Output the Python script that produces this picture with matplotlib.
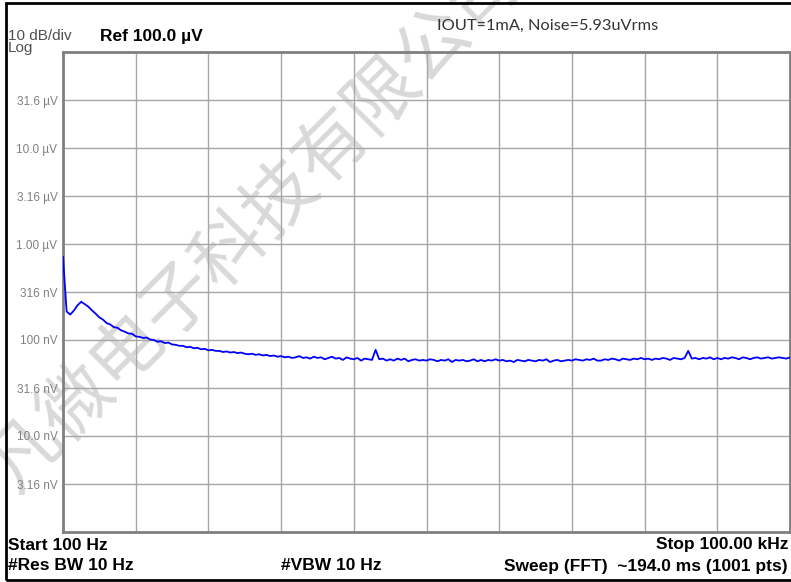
import numpy as np
import matplotlib.pyplot as plt
from matplotlib.patches import Rectangle
from matplotlib.ticker import NullFormatter

# sweep settings (from the instrument header)
start_hz = 100
stop_hz = 100e3

# trace level in nV, read every 5th sweep point (201 of 1001 pts)
level_nv = [
    733, 198, 184, 203, 230, 250, 236, 222, 203, 188, 172, 163, 150, 145, 136, 134, 126, 122, 117, 116,
    109, 108, 105, 106, 101, 100, 96, 97, 93, 94, 90, 89, 87, 87, 84, 85, 82, 83, 80, 81,
    78, 79, 77, 77, 75, 76, 74, 75, 73, 74, 72, 71, 72, 70, 71, 69, 70, 68, 69, 67,
    68, 66, 67, 65, 66, 68, 65, 66, 64, 67, 65, 66, 63, 65, 67, 64, 65, 62, 66, 64,
    63, 65, 61, 64, 63, 62, 79, 63, 64, 61, 63, 61, 64, 62, 64, 60, 62, 63, 61, 62,
    61, 63, 62, 60, 62, 61, 63, 59, 62, 61, 62, 60, 61, 63, 60, 62, 60, 62, 61, 63,
    61, 62, 60, 61, 59, 62, 61, 60, 62, 61, 60, 62, 61, 63, 59, 61, 62, 60, 61, 62,
    61, 63, 62, 61, 63, 62, 64, 61, 61, 63, 62, 64, 63, 61, 64, 63, 62, 64, 63, 65,
    63, 64, 62, 64, 63, 65, 64, 62, 65, 64, 63, 65, 77, 64, 65, 63, 65, 64, 66, 63,
    65, 63, 65, 64, 66, 65, 63, 66, 65, 63, 65, 66, 64, 65, 66, 64, 65, 66, 65, 64,
    66,
]
freq_hz = np.linspace(start_hz, stop_hz, len(level_nv))

# 10 dB/div, ref 100 uV at top
grid_values_nv = [1e5, 31.6e3, 10e3, 3.16e3, 1e3, 316, 100, 31.6, 10, 3.16, 1]
grid_labels = ["", "31.6 µV", "10.0 µV", "3.16 µV", "1.00 µV", "316 nV",
               "100 nV", "31.6 nV", "10.0 nV", "3.16 nV", ""]

W, H = 791, 582
fig = plt.figure(figsize=(W / 100, H / 100), dpi=100)
ax = fig.add_axes([63 / W, 1 - 532 / H, 727 / W, 480 / H])
ax.patch.set_alpha(0)

ax.plot(freq_hz, level_nv, color="#0000ff", lw=1.3, zorder=3)
ax.set_yscale("log")
ax.set_xlim(start_hz, stop_hz)
ax.set_ylim(1, 1e5)

ax.set_xticks(np.linspace(start_hz, stop_hz, 11))
ax.xaxis.set_major_formatter(NullFormatter())
ax.set_yticks(grid_values_nv)
ax.yaxis.set_minor_locator(plt.NullLocator())
ax.set_yticklabels(grid_labels, fontsize=8.5, color="#808080", family="Liberation Sans")
ax.tick_params(length=0, pad=4)
ax.grid(True, color="#a6a6a6", lw=1.0)
ax.set_axisbelow(True)
for s in ax.spines.values():
    s.set_color("#808080")
    s.set_linewidth(2)

# watermark, behind the axes (axes background is transparent)
fig.text(256 / W, 1 - 224 / H, "凡微电子科技有限公司",
         fontsize=52, color="#d9d9d9", family="Noto Sans CJK SC",
         rotation=45, rotation_mode="anchor", ha="center", va="center",
         zorder=-1)

# header / footer annotations
fig.text(8 / W, 1 - 36 / H, "10 dB/div", fontsize=11, color="#505050",
         family="Liberation Sans", va="center")
fig.text(8 / W, 1 - 48 / H, "Log", fontsize=11, color="#505050",
         family="Liberation Sans", va="center")
fig.text(100 / W, 1 - 37 / H, "Ref 100.0 µV", fontsize=12.5, fontweight="bold",
         family="Liberation Sans", va="center")
fig.text(437 / W, 1 - 26 / H, "IOUT=1mA, Noise=5.93uVrms", fontsize=11.8,
         color="#333333", family="Lato", va="center")

bold = dict(fontsize=12.5, fontweight="bold", family="Liberation Sans", va="center")
fig.text(8 / W, 1 - 545 / H, "Start 100 Hz", **bold)
fig.text(8 / W, 1 - 566 / H, "#Res BW 10 Hz", **bold)
fig.text(281 / W, 1 - 566 / H, "#VBW 10 Hz", **bold)
fig.text(788 / W, 1 - 545 / H, "Stop 100.00 kHz", ha="right", **bold)
fig.text(788 / W, 1 - 566 / H, "Sweep (FFT)  ~194.0 ms (1001 pts)", ha="right", **bold)

# instrument screen border
fig.add_artist(Rectangle((6 / W, 1 - 580 / H), 790 / W, 577 / H,
                         transform=fig.transFigure, fill=False, ec="black", lw=2))

fig.savefig("out.png", dpi=100)
